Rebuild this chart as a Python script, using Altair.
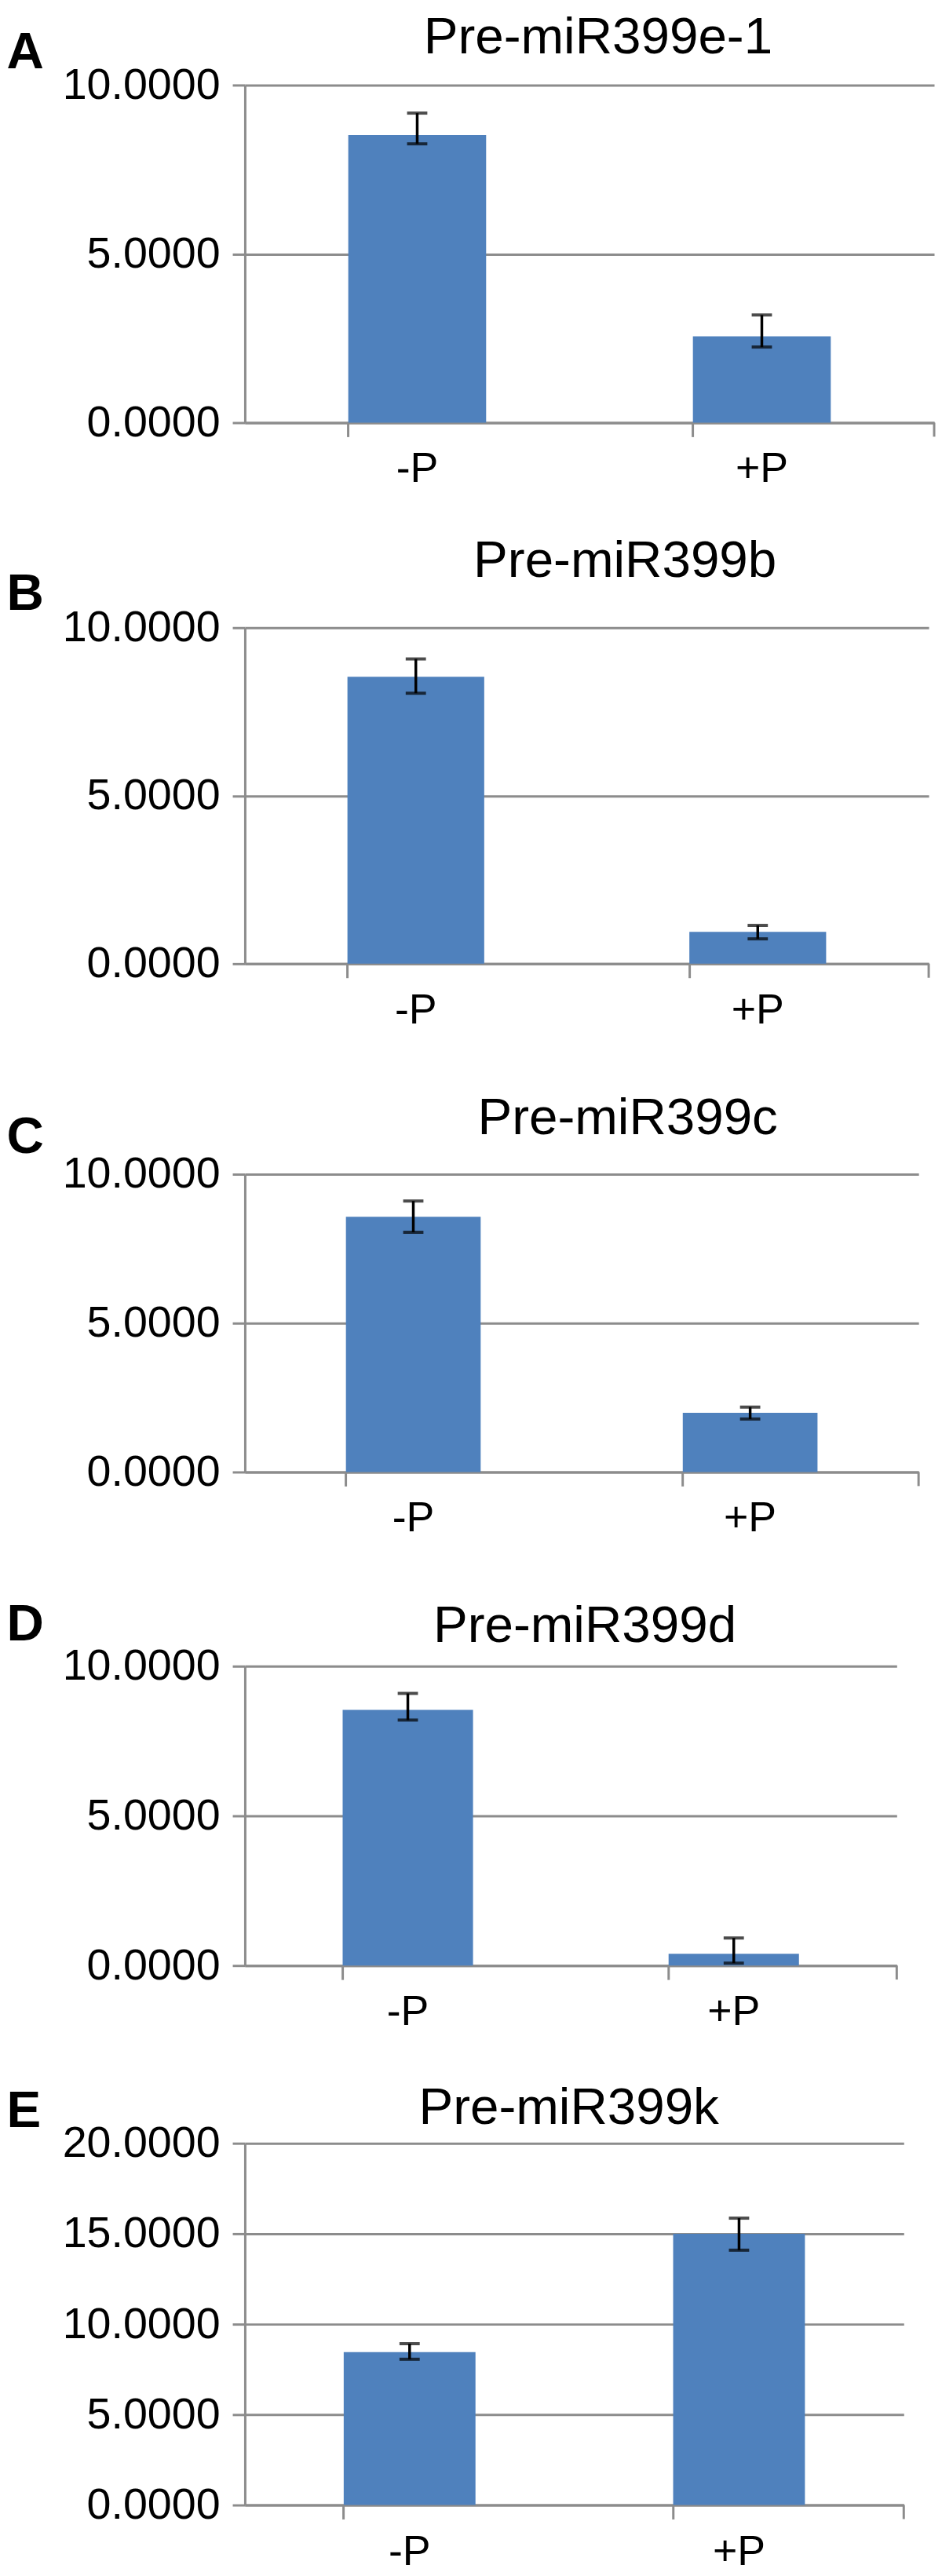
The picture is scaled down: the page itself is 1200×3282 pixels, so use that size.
import altair as alt
import pandas as pd

# ---------------- data ----------------
conditions = ["-P", "+P"]
panel_letters = ["A", "B", "C", "D", "E"]
panel_titles = ["Pre-miR399e-1", "Pre-miR399b", "Pre-miR399c", "Pre-miR399d", "Pre-miR399k"]
means = [[8.52, 2.56], [8.54, 0.95], [8.57, 1.99], [8.54, 0.39], [8.45, 15.00]]
err_low = [[8.26, 2.24], [8.05, 0.74], [8.05, 1.78], [8.20, 0.08], [8.06, 14.09]]
err_high = [[9.17, 3.19], [9.07, 1.14], [9.10, 2.18], [9.09, 0.92], [8.92, 15.86]]
y_max = [10, 10, 10, 10, 20]
y_ticks = [[0, 5, 10], [0, 5, 10], [0, 5, 10], [0, 5, 10], [0, 5, 10, 15, 20]]

# ---------------- layout / style ----------------
FONT = "Liberation Sans"
GRAY = "#8c8c8c"
BLUE = "#4f81bd"
widths = [884, 877, 864, 836, 845]
heights = [433, 431, 382, 384, 464]
title_offset = [-48, -25, -44, -70, -63]
title_dx = [11, 49, 59, 18, -7]
letter_y = [-22, -23, -28, -34, -21]
spacings = [58, 79, 75, 63]


def panel(i):
    df = pd.DataFrame({
        "cond": conditions,
        "mean": means[i],
        "lo": err_low[i],
        "hi": err_high[i],
    })
    W, H = widths[i], heights[i]
    xscale = alt.Scale(domain=conditions, paddingInner=0.6, paddingOuter=0.3)
    yscale = alt.Scale(domain=[0, y_max[i]], nice=False)

    x_axis = alt.Axis(
        title=None, labelAngle=0, bandPosition=0, ticks=True, tickSize=18,
        tickWidth=3, tickColor=GRAY, domain=True, domainColor=GRAY,
        domainWidth=3, labelFontSize=54, labelPadding=15, labelColor="black",
        labelFont=FONT, grid=False, labelLimit=0,
    )
    y_axis = alt.Axis(
        values=y_ticks[i], format=".4f", grid=True, gridColor=GRAY, gridWidth=3,
        tickSize=16, tickWidth=3, tickColor=GRAY, domain=True, domainColor=GRAY,
        domainWidth=3, labelFontSize=56, labelPadding=16, labelColor="black",
        labelFont=FONT, labelLimit=0, title=panel_letters[i], titleAngle=0,
        titleX=-306, titleY=letter_y[i], titleAlign="left",
        titleBaseline="alphabetic", titleFontSize=66, titleFontWeight="bold",
        titleFont=FONT, titleColor="black",
    )
    xenc = alt.X("cond:N", sort=conditions, scale=xscale, axis=x_axis)

    bars = alt.Chart(df).mark_bar(color=BLUE).encode(
        x=xenc,
        y=alt.Y("mean:Q", scale=yscale, axis=y_axis),
    )
    stem = alt.Chart(df).mark_rule(color="black", strokeWidth=3.5).encode(
        x=xenc,
        y=alt.Y("lo:Q", scale=yscale, axis=y_axis),
        y2="hi:Q",
    )
    cap_lo = alt.Chart(df).mark_tick(color="black", size=26, thickness=4).encode(
        x=xenc,
        y=alt.Y("lo:Q", scale=yscale, axis=y_axis),
    )
    cap_hi = alt.Chart(df).mark_tick(color="black", size=26, thickness=4).encode(
        x=xenc,
        y=alt.Y("hi:Q", scale=yscale, axis=y_axis),
    )
    end_tick = alt.Chart(df.head(1)).mark_rule(color=GRAY, strokeWidth=3).encode(
        x=alt.value(W), y=alt.value(H), y2=alt.value(H + 18)
    )
    return alt.layer(bars, stem, cap_lo, cap_hi, end_tick).properties(
        width=W,
        height=H,
        title=alt.TitleParams(
            text=panel_titles[i], fontSize=66, font=FONT, fontWeight="normal",
            color="black", offset=title_offset[i], dx=title_dx[i],
            anchor="middle",
        ),
    )


panels = [panel(i) for i in range(5)]
inner = alt.vconcat(panels[3], panels[4], spacing=spacings[3])
inner = alt.vconcat(panels[2], inner, spacing=spacings[2])
inner = alt.vconcat(panels[1], inner, spacing=spacings[1])
chart = alt.vconcat(panels[0], inner, spacing=spacings[0]).properties(
    padding={"top": -4, "left": 0, "right": 0, "bottom": 0},
    background="white",
).configure_view(stroke=None)

chart.save("out.html", embed_options={"renderer": "svg", "actions": False})
